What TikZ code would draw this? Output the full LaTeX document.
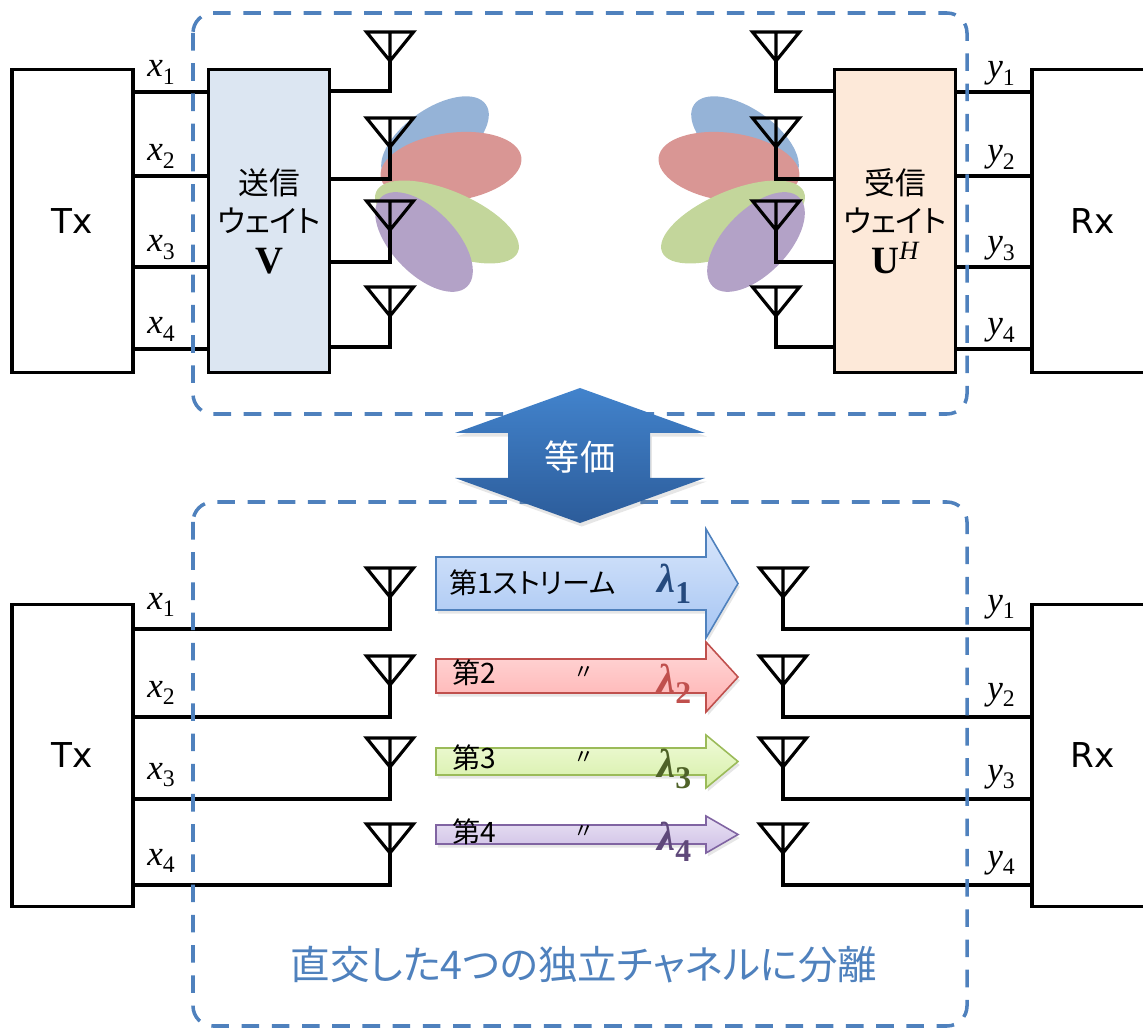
\documentclass[tikz,border=0pt]{standalone}
\usepackage{fontspec}
\usetikzlibrary{shadows}

\newfontfamily\jpfont[RawFeature=+palt]{Noto Sans CJK JP}
\newfontfamily\latfont{DejaVu Sans}
\newfontfamily\tmsfont{Liberation Serif}

\definecolor{grpblue}{HTML}{4F81BD}
\definecolor{wvfill}{HTML}{DCE6F2}
\definecolor{wufill}{HTML}{FDE9D9}
\definecolor{beamB}{HTML}{95B3D7}
\definecolor{beamR}{HTML}{D99694}
\definecolor{beamG}{HTML}{C3D69B}
\definecolor{beamP}{HTML}{B3A2C7}
\definecolor{eqtop}{HTML}{4283CC}
\definecolor{eqbot}{HTML}{2C5C9A}
% stream arrows: top / bottom / border / lambda
\definecolor{stop1}{HTML}{D8E6FB}\definecolor{sbot1}{HTML}{A6C5F3}\definecolor{sline1}{HTML}{4F81BD}\definecolor{slam1}{HTML}{254A7E}
\definecolor{stop2}{HTML}{FFDADA}\definecolor{sbot2}{HTML}{FFB0B0}\definecolor{sline2}{HTML}{C0504D}\definecolor{slam2}{HTML}{C0504D}
\definecolor{stop3}{HTML}{F0FBDA}\definecolor{sbot3}{HTML}{D6EFA6}\definecolor{sline3}{HTML}{9BBB59}\definecolor{slam3}{HTML}{4F6228}
\definecolor{stop4}{HTML}{EAE3F4}\definecolor{sbot4}{HTML}{CDBEE5}\definecolor{sline4}{HTML}{8064A2}\definecolor{slam4}{HTML}{5F497A}

\newcommand{\sigl}[2]{{\tmsfont\itshape #1}\raisebox{-4.5pt}{\tmsfont\fontsize{13.5}{13}\selectfont #2}}
\newcommand{\lamb}[1]{{\tmsfont\bfseries\itshape λ}\raisebox{-6.5pt}{\tmsfont\bfseries\fontsize{18}{18}\selectfont #1}}

\begin{document}
\begin{tikzpicture}[x=0.02cm, y=-0.02cm,
  blk/.style={draw, line width=1.8pt, inner sep=0pt, minimum width=2.42cm, minimum height=6.05cm,
    font=\latfont\fontsize{19.5}{23}\selectfont},
  wbox/.style={blk, align=center, font=\jpfont\fontsize{17.5}{22}\selectfont},
  wire/.style={line width=1.8pt},
  lbl/.style={anchor=base west, inner sep=0pt, font=\fontsize{20}{22}\selectfont},
  grp/.style={draw=grpblue, line width=2pt, dash pattern=on 10pt off 7.2pt, rounded corners=0.4cm},
  stream/.style={draw=sline#1, line width=0.9pt, top color=stop#1, bottom color=sbot#1,
    drop shadow={opacity=0.2, shadow xshift=1pt, shadow yshift=-2pt}},
  ant/.pic={\draw[wire] (-23.5,0) -- (23.5,0) -- (0,29) -- cycle (0,0) -- (0,29);}
]
\useasboundingbox (0,0) rectangle (1143,1030);
\clip (0,0) rectangle (1143,1030);

% beam lobes
\fill[beamB, rotate around={35:(435,140)}] (435,140) ellipse [x radius=62, y radius=31];
\fill[beamR, rotate around={8:(451,167)}] (451,167) ellipse [x radius=71, y radius=34];
\fill[beamG, rotate around={-23:(447,222)}] (447,222) ellipse [x radius=77, y radius=31];
\fill[beamP, rotate around={-46:(424,242)}] (424,242) ellipse [x radius=62, y radius=32];
\fill[beamB, rotate around={-35:(745,140)}] (745,140) ellipse [x radius=62, y radius=31];
\fill[beamR, rotate around={-8:(729,167)}] (729,167) ellipse [x radius=71, y radius=34];
\fill[beamG, rotate around={23:(733,222)}] (733,222) ellipse [x radius=77, y radius=31];
\fill[beamP, rotate around={46:(756,242)}] (756,242) ellipse [x radius=62, y radius=32];

% upper half
\node[blk] (tx) at (72.5,221) {Tx};
\node[wbox, fill=wvfill] (wv) at (269,221) {送信\\ウェイト\\[1pt]{\tmsfont\bfseries\fontsize{22}{22}\selectfont V}};
\node[wbox, fill=wufill] (wu) at (895,221) {受信\\ウェイト\\[1pt]{\tmsfont\bfseries\fontsize{22}{22}\selectfont U}\raisebox{8pt}{\tmsfont\itshape\fontsize{15}{15}\selectfont H}};
\node[blk] (rx) at (1092.5,221) {Rx};

\foreach \i/\y in {1/92,2/176,3/267,4/349}{
  \draw[wire] (tx.east |- 0,\y) -- (wv.west |- 0,\y);
  \draw[wire] (wu.east |- 0,\y) -- (rx.west |- 0,\y);
  \node[lbl] (x\i) at (147,\y-15) {\sigl{x}{\i}};
  \node[lbl] (y\i) at (987,\y-14) {\sigl{y}{\i}};
}
\foreach \i/\t/\y in {1/32/91,2/118/179,3/201/262,4/287/347}{
  \pic at (390,\t) {ant};
  \pic at (776,\t) {ant};
  \coordinate (ta\i) at (390,\t+29);
  \coordinate (ra\i) at (776,\t+29);
  \draw[wire] (ta\i) |- (wv.east |- 0,\y);
  \draw[wire] (ra\i) |- (wu.west |- 0,\y);
}

% lower half
\node[blk] (tx2) at (72.5,755.5) {Tx};
\node[blk] (rx2) at (1092.5,755.5) {Rx};
\foreach \i/\t/\y in {1/568/629,2/656/717,3/738/799,4/824/885}{
  \pic at (390,\t) {ant};
  \pic at (783,\t) {ant};
  \coordinate (tb\i) at (390,\t+29);
  \coordinate (rb\i) at (783,\t+29);
  \draw[wire] (tx2.east |- 0,\y) -| (tb\i);
  \draw[wire] (rb\i) |- (rx2.west |- 0,\y);
  \node[lbl] (xb\i) at (147,\y-20) {\sigl{x}{\i}};
  \node[lbl] (yb\i) at (987,\y-18) {\sigl{y}{\i}};
}

% streams
\foreach \i/\sa/\sb/\ha/\hb/\yl/\bl in {1/557/610/529/638/583/592,2/659/693/642/712/673/692,
    3/748/775/735/788/758/777,4/825/844/816/853/832/850}{
  \path[stream=\i] (436,\sa) -- (706,\sa) -- (706,\ha) -- (738,{(\ha+\hb)/2})
    -- (706,\hb) -- (706,\sb) -- (436,\sb) -- cycle;
  \node[anchor=base west, inner sep=0pt, text=slam\i, font=\fontsize{23}{23}\selectfont] (lam\i) at (657,\bl) {\lamb{\i}};
}
\node[anchor=west, inner sep=0pt, font=\jpfont\fontsize{16}{19}\selectfont] (st1) at (449,583) {第1ストリーム};
\foreach \i/\yl in {2/673,3/758,4/832}{
  \node[anchor=west, inner sep=0pt, font=\jpfont\fontsize{16}{19}\selectfont] (st\i) at (452,\yl) {第\i};
  \node[inner sep=0pt, font=\jpfont\fontsize{12}{14}\selectfont] (dt\i) at (584,\yl) {〃};
}

% groups
\draw[grp] (193,13) rectangle (967,414);
\draw[grp] (193,502) rectangle (967,1026);
\node[text=grpblue, font=\jpfont\fontsize{22.5}{26}\selectfont] (cap) at (584,965) {直交した4つの独立チャネルに分離};

% equivalence arrow
\path[top color=eqtop, bottom color=eqbot, drop shadow={opacity=0.2, shadow xshift=1pt, shadow yshift=-2pt}]
  (580,388) -- (705,433) -- (650,433) -- (650,478) -- (705,478) -- (580,523)
  -- (455,478) -- (508,478) -- (508,433) -- (455,433) -- cycle;
\node[text=white, font=\jpfont\fontsize{20}{24}\selectfont] (eq) at (580,457) {等価};
\end{tikzpicture}
\end{document}
